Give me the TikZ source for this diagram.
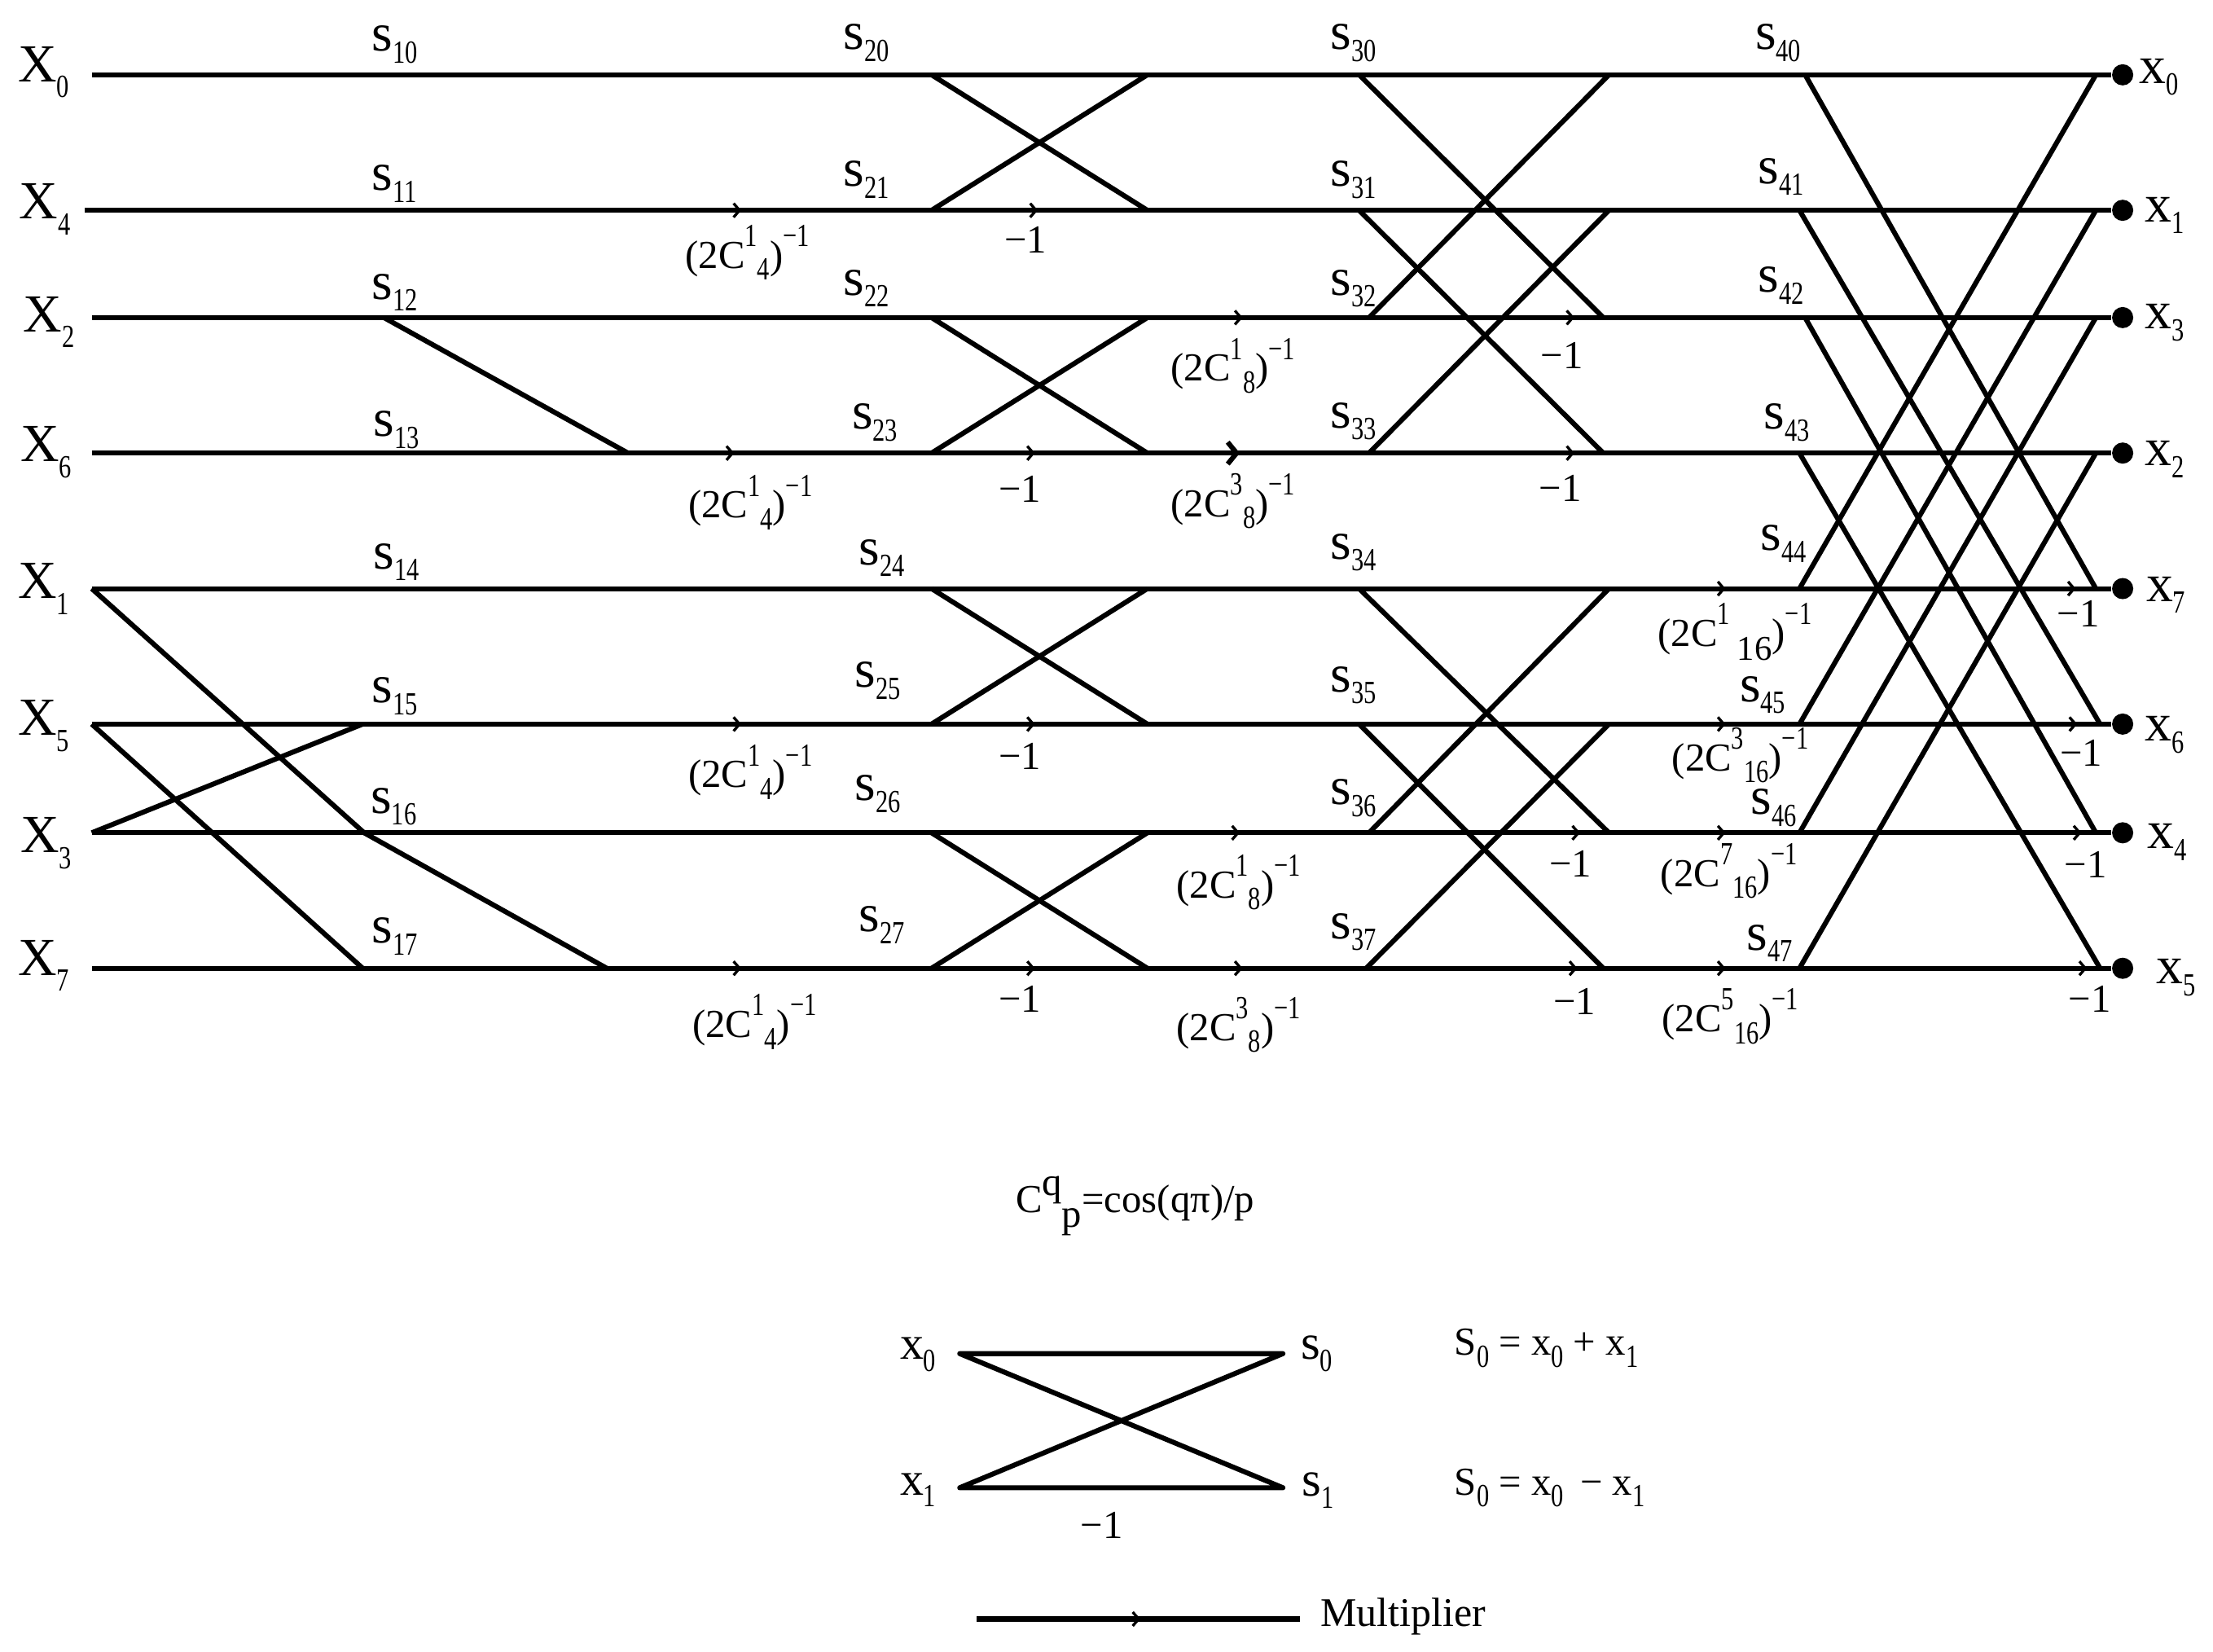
\documentclass[tikz,border=0pt]{standalone}
\usepackage{fontspec}
\setmainfont{Liberation Serif}
\usepackage{xcolor}
\usetikzlibrary{arrows.meta,decorations.markings}
\newcommand{\indexfont}{\fontsize{5}{6}\selectfont}
\newcommand{\tallidx}[1]{\scalebox{1}[1.3]{\indexfont #1}}
\newcommand{\lbl}[2]{#1\raisebox{-2.4pt}{\tallidx{#2}}}
\newcommand{\inlbl}[2]{#1\raisebox{-3.2pt}{\tallidx{#2}}}
\newcommand{\mult}[2]{(2C\raisebox{4.4pt}{\tallidx{#1}}\raisebox{-2.4pt}{\tallidx{#2}})\raisebox{4.4pt}{\tallidx{−1}}}
\newcommand{\multwide}[2]{(2C\raisebox{4.4pt}{\tallidx{#1}}\hspace{1.5pt}\raisebox{-2.8pt}{\fontsize{7}{8}\selectfont #2})\raisebox{4.4pt}{\tallidx{−1}}}
\tikzset{
  wire/.style={line width=1pt,line join=round},
  tipsat/.style={postaction={decorate,decoration={markings,mark=at position #1 with {\arrow[line width=.55pt]{Straight Barb[length=1.2pt,width=2.8pt]}}}}},
  bigtipat/.style={postaction={decorate,decoration={markings,mark=at position #1 with {\arrow[line width=1pt]{Straight Barb[length=1.8pt,width=4.4pt]}}}}},
  lab/.style={anchor=base west,inner sep=0pt,font=\fontsize{10.8}{12}\selectfont},
  smalllab/.style={anchor=base west,inner sep=0pt,font=\fontsize{8}{9}\selectfont},
  dot/.style={circle,fill=black,inner sep=0pt,minimum size=.15cm},
}
\begin{document}
\begin{tikzpicture}[x=.01cm,y=-.01cm]
\useasboundingbox (0,0) rectangle (1568,1170);
% rows: start, output dot, and the junctions of each stage
\foreach \r/\y in {0/53,1/149,2/225,3/321,4/417,5/513,6/590,7/686}{
  \coordinate (a\r) at (65,\y);
  \node[dot] (d\r) at (1504,\y) {};
  \coordinate (p\r) at (660,\y);
  \coordinate (q\r) at (813,\y);
}
\coordinate (a1) at (60,149);
% main wires
\draw[wire] (a0) -- (d0);
\draw[wire,tipsat=4.65cm,tipsat=6.75cm] (a1) -- (d1);
\draw[wire,tipsat=8.15cm,tipsat=10.5cm] (a2) -- (d2);
\draw[wire,tipsat=4.55cm,tipsat=6.68cm,bigtipat=8.13cm,tipsat=10.5cm] (a3) -- (d3);
\draw[wire,tipsat=11.57cm,tipsat=14.05cm] (a4) -- (d4);
\draw[wire,tipsat=4.6cm,tipsat=6.68cm,tipsat=11.57cm,tipsat=14.06cm] (a5) -- (d5);
\draw[wire,tipsat=8.13cm,tipsat=10.54cm,tipsat=11.57cm,tipsat=14.09cm] (a6) -- (d6);
\draw[wire,tipsat=4.6cm,tipsat=6.68cm,tipsat=8.15cm,tipsat=10.52cm,tipsat=11.57cm,tipsat=14.13cm] (a7) -- (d7);
% first stage
\coordinate (b2) at (272,225); \coordinate (b3) at (445,321);
\coordinate (b5) at (257,513); \coordinate (b6) at (258,590);
\coordinate (b7) at (257,686); \coordinate (b8) at (430,686);
\draw[wire] (b2) -- (b3);
\draw[wire] (a4) -- (b6) -- (b8);
\draw[wire] (a5) -- (b7);
\draw[wire] (a6) -- (b5);
% second stage
\foreach \u/\v in {0/1,1/0,2/3,3/2,4/5,5/4,6/7,7/6}
  \draw[wire] (p\u) -- (q\v);
% third stage
\foreach \r/\xa/\xb/\y/\s/\yb in {0/963/1136/53/2/225,1/963/1136/149/3/321,2/970/1140/225/0/53,3/970/1140/321/1/149,
  4/963/1140/417/6/590,5/963/1136/513/7/686,6/970/1140/590/4/417,7/968/1140/686/5/513}{
  \coordinate (e\r) at (\xa,\y);
  \coordinate (f\s) at (\xb,\yb);
  \draw[wire] (e\r) -- (f\s);
}
% fourth stage
\foreach \r/\xa/\xb/\y/\s/\yb in {0/1279/1485/53/4/417,1/1275/1488/149/5/513,2/1279/1485/225/6/590,3/1275/1488/321/7/686,
  4/1275/1485/417/0/53,5/1275/1485/513/1/149,6/1275/1485/590/2/225,7/1275/1485/686/3/321}{
  \coordinate (g\r) at (\xa,\y);
  \coordinate (h\s) at (\xb,\yb);
  \draw[wire] (g\r) -- (h\s);
}
% inputs and outputs
\foreach \nm/\px/\py in {0/12/58,4/13/155,2/16/235,6/14/327,1/12/424,5/12/521,3/14/604,7/12/691}
  \node[lab] (X\nm) at (\px,\py) {\inlbl{X}{\nm}};
\foreach \nm/\px/\py in {0/1515/59,1/1519/157,3/1519/233,2/1519/330,7/1520/426,6/1519/525,4/1521/601,5/1527/697}
  \node[lab] (x\nm) at (\px,\py) {\lbl{x}{\nm}};
% stage labels
\foreach \nm/\px/\py in {10/263/36,11/263/135,12/263/212,13/264/309,14/264/403,15/263/498,16/262/576,17/263/668,
  20/597/35,21/597/132,22/597/209,23/603/304,24/608/400,25/605/487,26/605/567,27/608/660,
  30/942/35,31/942/132,32/942/209,33/942/303,34/942/396,35/942/490,36/942/570,37/942/665,
  40/1243/35,41/1245/130,42/1245/207,43/1249/304,44/1247/390,45/1232/497,46/1240/577,47/1237/673}
  \node[lab] (s\nm) at (\px,\py) {\lbl{s}{\nm}};
% multipliers
\foreach \nm/\q/\p/\px/\py in {a/1/4/485/190,b/1/4/487/367,c/1/4/487/558,d/1/4/490/735,
  e/1/8/829/270,f/3/8/829/366,g/1/8/833/636,h/3/8/833/737,
  j/3/16/1184/546,k/7/16/1176/628,l/5/16/1177/731}
  \node[smalllab] (m\nm) at (\px,\py) {\mult{\q}{\p}};
\node[smalllab] (mi) at (1174,458) {\multwide{1}{16}};
\foreach \nm/\px/\py in {a/711/179,b/707/356,c/707/545,d/707/717,
  e/1091/261,f/1090/355,g/1097/621,h/1100/719,
  i/1457/444,j/1459/543,k/1462/622,l/1465/717}
  \node[smalllab] (n\nm) at (\px,\py) {−1};
% formula
\node[smalllab] (cq) at (719,859) {C\raisebox{.42em}{q}\raisebox{-.38em}{p}=cos(qπ)/p};
% legend
\coordinate (l0) at (680,959); \coordinate (r0) at (909,959);
\coordinate (l1) at (680,1054); \coordinate (r1) at (909,1054);
\draw[wire] (l0) -- (r0) -- (l1) -- (r1) -- cycle;
\node[lab,font=\fontsize{9.5}{11}\selectfont] (lx0) at (637,963) {\lbl{x}{0}};
\node[lab,font=\fontsize{9.5}{11}\selectfont] (lx1) at (637,1059) {\lbl{x}{1}};
\node[lab,font=\fontsize{10}{11}\selectfont] (ls0) at (921,963) {\lbl{s}{0}};
\node[lab,font=\fontsize{10}{11}\selectfont] (ls1) at (922,1060) {\lbl{s}{1}};
\node[smalllab] (ln) at (765,1090) {−1};
\node[smalllab] (eq0) at (1030,960) {\lbl{S}{0} = \lbl{x}{0} + \lbl{x}{1}};
\node[smalllab] (eq1) at (1030,1059) {\lbl{S}{0} = \lbl{x}{0} \,− \lbl{x}{1}};
\coordinate (ml) at (692,1147); \coordinate (mr) at (921,1147);
\draw[wire,tipsat=1.16cm] (ml) -- (mr);
\node[smalllab,font=\fontsize{8.2}{9}\selectfont] (ml2) at (935,1152) {Multiplier};
\end{tikzpicture}
\end{document}
